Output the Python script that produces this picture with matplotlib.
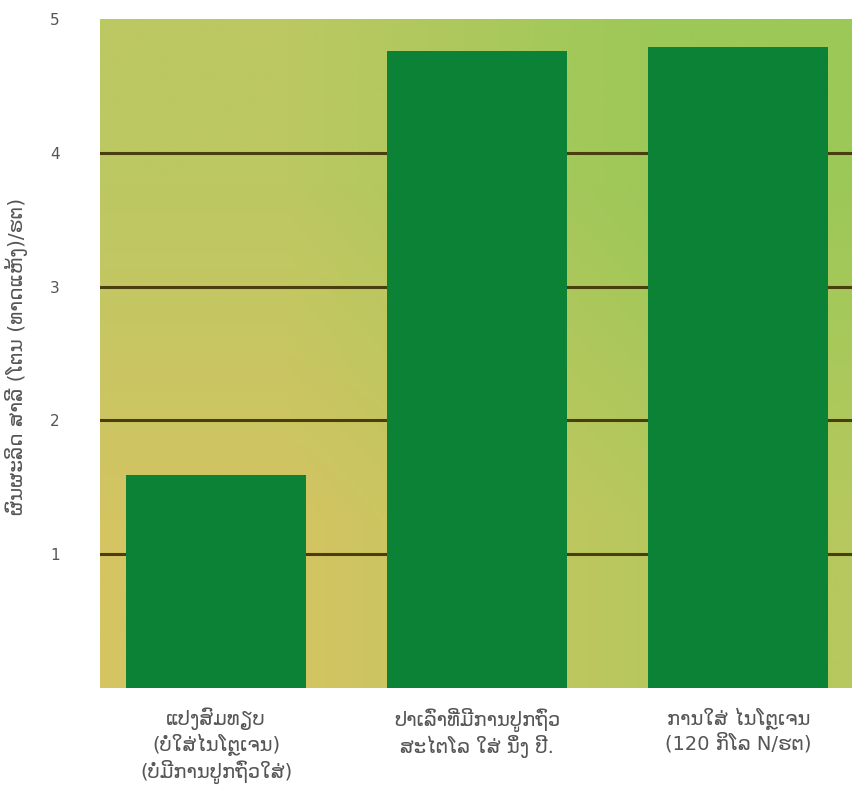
# corn yield bar chart (Lao labels)

import matplotlib.pyplot as plt
import numpy as np
from matplotlib.colors import to_rgb

categories = [
    "ແປງສົມທຽບ\n(ບໍ່ໃສ່ໄນໂຕຼເຈນ)\n(ບໍ່ມີການປູກຖົ່ວໃສ່)",
    "ປາເລົ່າທີ່ມີການປູກຖົ່ວ\nສະໄຕໂລ ໃສ່ ນຶ່ງ ປີ.",
    "ການໃສ່ ໄນໂຕຼເຈນ\n(120 ກິໂລ N/ຮຕ)",
]
yields = [1.59, 4.76, 4.79]
y_ticks = [1, 2, 3, 4, 5]
y_label = "ຜົນຜະລິດ ສາລີ (ໂຕນ (ທາດແຫ້ງ)/ຮຕ)"

plt.rcParams['font.family'] = ['DejaVu Sans']

fig = plt.figure(figsize=(8.52, 8.05), dpi=100)
ax = fig.add_axes([100 / 852, 1 - 688 / 805, 1 - 100 / 852, (688 - 19) / 805])

x = np.arange(len(categories))
ax.set_xlim(-0.445, 2.435)
ax.set_ylim(0, 5)

# background gradient: tan-yellow bottom left -> green top right
corners = np.array([
    [to_rgb("#bcc862"), to_rgb("#9cc858")],   # top row
    [to_rgb("#d4c462"), to_rgb("#b6c85e")],   # bottom row
])
ax.imshow(corners, extent=(-0.445, 2.435, 0, 5), aspect='auto',
          interpolation='bilinear', zorder=0)

# grid lines behind the bars
for yv in y_ticks[:-1]:
    ax.axhline(yv, color="#4a3e10", lw=2.2, zorder=1)

ax.bar(x, yields, width=0.69, color="#0b8235", zorder=2)

ax.set_xticks(x)
ax.set_xticklabels(categories, fontsize=14, color="#555555", linespacing=1.2)
ax.set_yticks(y_ticks)
ax.set_yticklabels([str(v) for v in y_ticks], fontsize=11, color="#555555")
ax.tick_params(axis='both', length=0)
ax.tick_params(axis='x', pad=14)
ax.tick_params(axis='y', pad=29)
ax.set_ylabel(y_label, fontsize=14.5, color="#555555")
ax.yaxis.set_label_coords(-0.096, 0.495)
for s in ax.spines.values():
    s.set_visible(False)

fig.savefig("out.png", dpi=100)
